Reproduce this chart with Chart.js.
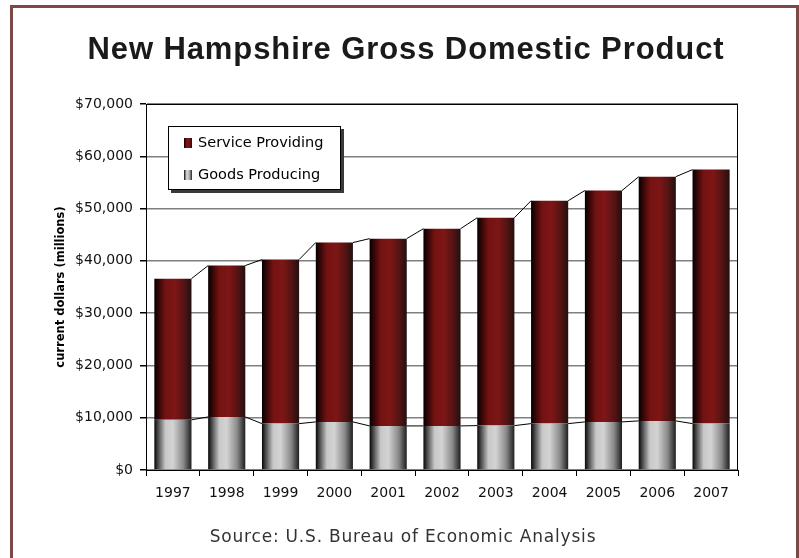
<!DOCTYPE html>
<html>
<head>
<meta charset="utf-8">
<title>New Hampshire Gross Domestic Product</title>
<script src="https://cdn.jsdelivr.net/npm/chart.js@4.4.1/dist/chart.umd.min.js"></script>
<style>
  html, body { margin: 0; padding: 0; background: #fff; }
  #wrap { position: relative; width: 799px; height: 558px; overflow: hidden; background: #fff; }
  #frame { position: absolute; left: 10px; top: 5px; width: 783px; height: 620px; border: 3px solid #7b4a44; }
  #gdpChart { position: absolute; left: 0; top: 0; }
</style>
</head>
<body>
<div id="wrap">
  <div id="frame"></div>
  <canvas id="gdpChart" width="799" height="558"></canvas>
</div>
<script>
// GDP by sector, millions of current dollars
const years = ['1997', '1998', '1999', '2000', '2001', '2002', '2003', '2004', '2005', '2006', '2007'];
const goodsProducing   = [9600, 10150, 8870, 9200, 8430, 8430, 8490, 8870, 9200, 9390, 8870];
const serviceProviding = [27000, 28950, 31380, 34300, 35820, 37720, 39760, 42630, 44250, 46710, 48580];
const yTicks = [0, 10000, 20000, 30000, 40000, 50000, 60000, 70000];

const BAR_PCT = 0.69;

// horizontal "cylinder" shading for each series
const redStops  = [[0, '#030000'], [0.1, '#2e0505'], [0.3, '#741212'], [0.55, '#7e1616'], [0.8, '#541313'], [1, '#221010']];
const greyStops = [[0, '#060606'], [0.1, '#4a4a4a'], [0.3, '#c8c8c8'], [0.5, '#d3d3d3'], [0.78, '#8a8a8a'], [1, '#1e1e1e']];

function makeGradient(ctx, x0, x1, stops) {
    const g = ctx.createLinearGradient(x0, 0, x1, 0);
    stops.forEach(s => g.addColorStop(s[0], s[1]));
    return g;
}

function barShade(stops) {
    return (c) => {
        const chart = c.chart;
        const xs = chart.scales.x;
        if (!xs || c.dataIndex === undefined || !chart.chartArea) return stops[3][1];
        const cx = xs.getPixelForValue(c.dataIndex);
        const w = xs.width / years.length * BAR_PCT;
        if (!isFinite(cx) || !isFinite(w) || w <= 0) return stops[3][1];
        return makeGradient(chart.ctx, cx - w / 2, cx + w / 2, stops);
    };
}

// thin black lines joining the tops of neighbouring segments
const seriesLines = {
    id: 'seriesLines',
    afterDatasetsDraw(chart) {
        const ctx = chart.ctx;
        ctx.save();
        ctx.strokeStyle = '#000';
        ctx.lineWidth = 1;
        chart.getSortedVisibleDatasetMetas().forEach(meta => {
            for (let i = 0; i < meta.data.length - 1; i++) {
                const a = meta.data[i], b = meta.data[i + 1];
                ctx.beginPath();
                ctx.moveTo(a.x + a.width / 2, a.y);
                ctx.lineTo(b.x - b.width / 2, b.y);
                ctx.stroke();
            }
        });
        // plot frame
        const ca = chart.chartArea;
        ctx.strokeRect(Math.round(ca.left) + 0.5, Math.round(ca.top) + 0.5,
                       Math.round(ca.right - ca.left) - 1, Math.round(ca.bottom - ca.top));
        ctx.restore();
    }
};

// title, source note and boxed legend
const decorations = {
    id: 'decorations',
    afterDraw(chart) {
        const ctx = chart.ctx;
        ctx.save();
        ctx.fillStyle = '#1a1a1a';
        ctx.textAlign = 'center';
        ctx.textBaseline = 'alphabetic';
        ctx.font = 'bold 31px "Liberation Sans", Arial, sans-serif';
        ctx.letterSpacing = '0.9px';
        ctx.fillText('New Hampshire Gross Domestic Product', 406, 59);

        ctx.fillStyle = '#333';
        ctx.font = '17px "DejaVu Sans", Verdana, sans-serif';
        ctx.letterSpacing = '0.8px';
        ctx.fillText('Source: U.S. Bureau of Economic Analysis', 403, 542);
        ctx.letterSpacing = '0px';

        // legend box
        const lx = 168, ly = 126, lw = 173, lh = 64;
        ctx.fillStyle = '#3a3a3a';
        ctx.fillRect(lx + 3, ly + 3, lw, lh);
        ctx.fillStyle = '#fff';
        ctx.fillRect(lx, ly, lw, lh);
        ctx.strokeStyle = '#000';
        ctx.lineWidth = 1;
        ctx.strokeRect(lx + 0.5, ly + 0.5, lw - 1, lh - 1);

        const items = [
            { label: chart.data.datasets[1].label, stops: redStops,  y: 143 },
            { label: chart.data.datasets[0].label, stops: greyStops, y: 175 }
        ];
        ctx.textAlign = 'left';
        ctx.textBaseline = 'middle';
        ctx.font = '14.5px "DejaVu Sans", Verdana, sans-serif';
        items.forEach(it => {
            ctx.fillStyle = makeGradient(ctx, 184, 192, it.stops);
            ctx.fillRect(184, it.y - 5, 8, 10);
            ctx.fillStyle = '#000';
            ctx.fillText(it.label, 198, it.y);
        });
        ctx.restore();
    }
};

const ctx = document.getElementById('gdpChart').getContext('2d');
const gdpChart = new Chart(ctx, {
    type: 'bar',
    data: {
        labels: years,
        datasets: [{
            label: 'Goods Producing',
            data: goodsProducing,
            backgroundColor: barShade(greyStops),
            borderWidth: 0,
            barPercentage: BAR_PCT,
            categoryPercentage: 1
        }, {
            label: 'Service Providing',
            data: serviceProviding,
            backgroundColor: barShade(redStops),
            borderWidth: 0,
            barPercentage: BAR_PCT,
            categoryPercentage: 1
        }]
    },
    options: {
        responsive: false,
        animation: false,
        events: [],
        layout: { padding: { top: 104, right: 61, bottom: 0, left: 0 } },
        plugins: {
            legend: { display: false },
            title: { display: false },
            tooltip: { enabled: false }
        },
        scales: {
            x: {
                stacked: true,
                afterFit: (s) => { s.height = 88; },
                grid: { offset: true, drawOnChartArea: false, tickLength: 6, color: '#000', tickColor: '#000' },
                border: { color: '#000', width: 1 },
                ticks: { color: '#111', padding: 9, maxRotation: 0, font: { family: 'DejaVu Sans', size: 14 } }
            },
            y: {
                stacked: true,
                min: 0,
                max: 70000,
                afterFit: (s) => { s.width = 146; },
                afterBuildTicks: (s) => { s.ticks = yTicks.map(v => ({ value: v })); },
                grid: { color: '#808080', lineWidth: 1.5, tickLength: 6, tickColor: '#000' },
                border: { color: '#000', width: 1 },
                ticks: {
                    color: '#111',
                    padding: 7,
                    font: { family: 'DejaVu Sans', size: 14 },
                    callback: (v) => '$' + Number(v).toLocaleString('en-US')
                },
                title: {
                    display: true,
                    text: 'current dollars (millions)',
                    color: '#000',
                    padding: { top: 54, bottom: 0 },
                    font: { family: 'DejaVu Sans', size: 11.5, weight: 'bold' }
                }
            }
        }
    },
    plugins: [seriesLines, decorations]
});
</script>
</body>
</html>
